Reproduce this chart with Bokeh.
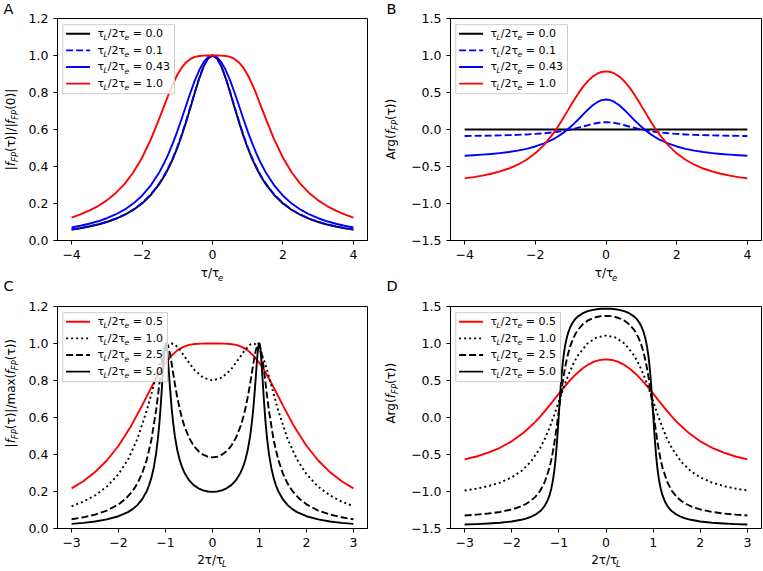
import math
from bokeh.plotting import figure
from bokeh.models import Range1d, FixedTicker, CustomJSTickFormatter, Label, BoxAnnotation, Arrow
from bokeh.layouts import row, column
from bokeh.embed import file_html
from bokeh.resources import INLINE

# ---------------- data ----------------
# Panels A / B : x = tau / tau_e
x_ab = [-4, -3.75, -3.5, -3.25, -3, -2.75, -2.5, -2.25, -2, -1.75, -1.5, -1.375, -1.25, -1.125, -1, -0.875, -0.75,
        -0.625, -0.5, -0.375, -0.25, -0.125, 0, 0.125, 0.25, 0.375, 0.5, 0.625, 0.75, 0.875, 1, 1.125, 1.25, 1.375,
        1.5, 1.75, 2, 2.25, 2.5, 2.75, 3, 3.25, 3.5, 3.75, 4]
mag_00 = [0.0588, 0.0664, 0.0755, 0.0865, 0.1, 0.1168, 0.1379, 0.1650, 0.2, 0.2462, 0.3077, 0.3460, 0.3902, 0.4414,
          0.5, 0.5664, 0.64, 0.7191, 0.8, 0.8767, 0.9412, 0.9846, 1,
          0.9846, 0.9412, 0.8767, 0.8, 0.7191, 0.64, 0.5664, 0.5, 0.4414, 0.3902, 0.3460, 0.3077, 0.2462, 0.2, 0.1650,
          0.1379, 0.1168, 0.1, 0.0865, 0.0755, 0.0664, 0.0588]
mag_01 = [0.0594, 0.0671, 0.0763, 0.0874, 0.1011, 0.1181, 0.1395, 0.1668, 0.2022, 0.2489, 0.3111, 0.3498, 0.3945,
          0.4460, 0.5050, 0.5716, 0.6452, 0.7240, 0.8041, 0.8797, 0.9428, 0.9851, 1,
          0.9851, 0.9428, 0.8797, 0.8041, 0.7240, 0.6452, 0.5716, 0.5050, 0.4460, 0.3945, 0.3498, 0.3111, 0.2489,
          0.2022, 0.1668, 0.1395, 0.1181, 0.1011, 0.0874, 0.0763, 0.0671, 0.0594]
mag_043 = [0.0704, 0.0795, 0.0905, 0.1039, 0.1203, 0.1407, 0.1665, 0.1995, 0.2422, 0.2983, 0.3722, 0.4174, 0.4686,
           0.5263, 0.5899, 0.6584, 0.7296, 0.8001, 0.8655, 0.9216, 0.9643, 0.9910, 1,
           0.9910, 0.9643, 0.9216, 0.8655, 0.8001, 0.7296, 0.6584, 0.5899, 0.5263, 0.4686, 0.4174, 0.3722, 0.2983,
           0.2422, 0.1995, 0.1665, 0.1407, 0.1203, 0.1039, 0.0905, 0.0795, 0.0704]
mag_10 = [0.1240, 0.1408, 0.1611, 0.1861, 0.2169, 0.2557, 0.3048, 0.3674, 0.4472, 0.5468, 0.6644, 0.7267, 0.7880,
          0.8450, 0.8944, 0.9339, 0.9627, 0.9815, 0.9923, 0.9975, 0.9995, 1.0000, 1,
          1.0000, 0.9995, 0.9975, 0.9923, 0.9815, 0.9627, 0.9339, 0.8944, 0.8450, 0.7880, 0.7267, 0.6644, 0.5468,
          0.4472, 0.3674, 0.3048, 0.2557, 0.2169, 0.1861, 0.1611, 0.1408, 0.1240]
arg_00 = [0.0] * 45
arg_01 = [-0.0879, -0.0864, -0.0846, -0.0822, -0.0796, -0.0763, -0.0720, -0.0666, -0.0596, -0.0504, -0.0380, -0.0303,
          -0.0215, -0.0112, 0.0005, 0.0138, 0.0285, 0.0442, 0.0602, 0.0754, 0.0881, 0.0967, 0.0997,
          0.0967, 0.0881, 0.0754, 0.0602, 0.0442, 0.0285, 0.0138, 0.0005, -0.0112, -0.0215, -0.0303, -0.0380, -0.0504,
          -0.0596, -0.0666, -0.0720, -0.0763, -0.0796, -0.0822, -0.0846, -0.0864, -0.0879]
arg_043 = [-0.3546, -0.3485, -0.3402, -0.3307, -0.3186, -0.3039, -0.2849, -0.2609, -0.2294, -0.1878, -0.1326, -0.0984,
           -0.0590, -0.0142, 0.0364, 0.0922, 0.1520, 0.2135, 0.2732, 0.3266, 0.3691, 0.3969, 0.4061,
           0.3969, 0.3691, 0.3266, 0.2732, 0.2135, 0.1520, 0.0922, 0.0364, -0.0142, -0.0590, -0.0984, -0.1326, -0.1878,
           -0.2294, -0.2609, -0.2849, -0.3039, -0.3186, -0.3307, -0.3402, -0.3485, -0.3546]
arg_10 = [-0.6610, -0.6441, -0.6237, -0.5984, -0.5667, -0.5271, -0.4758, -0.4090, -0.3218, -0.2069, -0.0587, 0.0281,
          0.1222, 0.2212, 0.3218, 0.4198, 0.5112, 0.5924, 0.6610, 0.7155, 0.7542, 0.7776, 0.7854,
          0.7776, 0.7542, 0.7155, 0.6610, 0.5924, 0.5112, 0.4198, 0.3218, 0.2212, 0.1222, 0.0281, -0.0587, -0.2069,
          -0.3218, -0.4090, -0.4758, -0.5271, -0.5667, -0.5984, -0.6237, -0.6441, -0.6610]
labels_ab = ["0.0", "0.1", "0.43", "1.0"]

# Panels C / D : u = 2 tau / tau_L
u_05 = [-3, -2.75, -2.5, -2.25, -2, -1.75, -1.5, -1.375, -1.25, -1.125, -1, -0.875, -0.75, -0.625, -0.5, -0.375,
        -0.25, -0.125, 0, 0.125, 0.25, 0.375, 0.5, 0.625, 0.75, 0.875, 1, 1.125, 1.25, 1.375, 1.5, 1.75, 2, 2.25,
        2.5, 2.75, 3]
cmag_05 = [0.2169, 0.2557, 0.3048, 0.3674, 0.4472, 0.5468, 0.6644, 0.7267, 0.7880, 0.8450, 0.8944, 0.9339, 0.9627,
           0.9815, 0.9923, 0.9975, 0.9995, 1.0000, 1,
           1.0000, 0.9995, 0.9975, 0.9923, 0.9815, 0.9627, 0.9339, 0.8944, 0.8450, 0.7880, 0.7267, 0.6644, 0.5468,
           0.4472, 0.3674, 0.3048, 0.2557, 0.2169]
carg_05 = [-0.5667, -0.5271, -0.4758, -0.4090, -0.3218, -0.2069, -0.0587, 0.0281, 0.1222, 0.2212, 0.3218, 0.4198,
           0.5112, 0.5924, 0.6610, 0.7155, 0.7542, 0.7776, 0.7854,
           0.7776, 0.7542, 0.7155, 0.6610, 0.5924, 0.5112, 0.4198, 0.3218, 0.2212, 0.1222, 0.0281, -0.0587, -0.2069,
           -0.3218, -0.4090, -0.4758, -0.5271, -0.5667]

u_1 = [-3, -2.75, -2.5, -2.25, -2, -1.8, -1.6, -1.4, -1.3, -1.2, -1.1, -1, -0.9, -0.875, -0.8, -0.7, -0.6, -0.4, -0.2, 0,
       0.2, 0.4, 0.6, 0.7, 0.8, 0.875, 0.9, 1, 1.1, 1.2, 1.3, 1.4, 1.6, 1.8, 2, 2.25, 2.5, 2.75, 3]
cmag_1 = [0.1203, 0.1452, 0.1789, 0.2259, 0.2941, 0.3727, 0.4836, 0.6371, 0.7287, 0.8231, 0.9085, 0.9702, 0.9982, 0.9999,
          0.9941, 0.9679, 0.9317, 0.8613, 0.8154, 0.8000, 0.8154, 0.8613, 0.9317, 0.9679, 0.9941, 0.9999, 0.9982, 0.9702,
          0.9085, 0.8231, 0.7287, 0.6371, 0.4836, 0.3727, 0.2941, 0.2259, 0.1789, 0.1452, 0.1203]
carg_1 = [-0.9866, -0.9618, -0.9273, -0.8792, -0.8087, -0.7255, -0.6023, -0.4162, -0.2909, -0.1403, 0.0325, 0.2187, 0.4036,
          0.4476, 0.5731, 0.7179, 0.8353, 0.9969, 1.0813, 1.1071, 1.0813, 0.9969, 0.8353, 0.7179, 0.5731, 0.4476, 0.4036,
          0.2187, 0.0325, -0.1403, -0.2909, -0.4162, -0.6023, -0.7255, -0.8087, -0.8792, -0.9273, -0.9618, -0.9866]

u_25 = [-3.0, -2.75, -2.5, -2.25, -2.0, -1.85, -1.7, -1.6, -1.5, -1.4, -1.3, -1.2, -1.16, -1.12, -1.08, -1.04, -1.0,
        -0.98, -0.96, -0.92, -0.88, -0.84, -0.8, -0.76, -0.7, -0.65, -0.6, -0.5, -0.4, -0.3, -0.2, -0.1, 0,
        0.1, 0.2, 0.3, 0.4, 0.5, 0.6, 0.65, 0.7, 0.76, 0.8, 0.84, 0.88, 0.92, 0.96, 0.98, 1.0, 1.04, 1.08, 1.12, 1.16,
        1.2, 1.3, 1.4, 1.5, 1.6, 1.7, 1.85, 2.0, 2.25, 2.5, 2.75, 3.0]
cmag_25 = [0.0497, 0.0605, 0.0754, 0.0970, 0.1305, 0.1603, 0.2029, 0.2425, 0.2962, 0.3714, 0.4805, 0.6402, 0.7200,
           0.8054, 0.8887, 0.9568, 0.9950, 1.0000, 0.9954, 0.9620, 0.9071, 0.8438, 0.7809, 0.7228, 0.6481, 0.5970,
           0.5547, 0.4908, 0.4472, 0.4177, 0.3987, 0.3881, 0.3846,
           0.3881, 0.3987, 0.4177, 0.4472, 0.4908, 0.5547, 0.5970, 0.6481, 0.7228, 0.7809, 0.8438, 0.9071, 0.9620,
           0.9954, 1.0000, 0.9950, 0.9568, 0.8887, 0.8054, 0.7200, 0.6402, 0.4805, 0.3714, 0.2962, 0.2425, 0.2029,
           0.1603, 0.1305, 0.0970, 0.0754, 0.0605, 0.0497]
carg_25 = [-1.3240, -1.3129, -1.2977, -1.2764, -1.2428, -1.2124, -1.1690, -1.1284, -1.0726, -0.9930, -0.8721, -0.6786,
           -0.5694, -0.4372, -0.2788, -0.0977, 0.0977, 0.1964, 0.2931, 0.4740, 0.6318, 0.7639, 0.8721, 0.9608, 1.0629,
           1.1284, 1.1803, 1.2555, 1.3045, 1.3372, 1.3580, 1.3695, 1.3734,
           1.3695, 1.3580, 1.3372, 1.3045, 1.2555, 1.1803, 1.1284, 1.0629, 0.9608, 0.8721, 0.7639, 0.6318, 0.4740,
           0.2931, 0.1964, 0.0977, -0.0977, -0.2788, -0.4372, -0.5694, -0.6786, -0.8721, -0.9930, -1.0726, -1.1284,
           -1.1690, -1.2124, -1.2428, -1.2764, -1.2977, -1.3129, -1.3240]

u_5 = [-3.0, -2.75, -2.5, -2.25, -2.0, -1.8, -1.7, -1.6, -1.5, -1.4, -1.35, -1.3, -1.25, -1.2, -1.16, -1.13, -1.1,
       -1.08, -1.06, -1.04, -1.02, -1.01, -1.0, -0.99, -0.98, -0.96, -0.94, -0.92, -0.9, -0.87, -0.84, -0.8, -0.75,
       -0.7, -0.65, -0.6, -0.5, -0.4, -0.3, -0.2, -0.1, 0,
       0.1, 0.2, 0.3, 0.4, 0.5, 0.6, 0.65, 0.7, 0.75, 0.8, 0.84, 0.87, 0.9, 0.92, 0.94, 0.96, 0.98, 0.99, 1.0, 1.01,
       1.02, 1.04, 1.06, 1.08, 1.1, 1.13, 1.16, 1.2, 1.25, 1.3, 1.35, 1.4, 1.5, 1.6, 1.7, 1.8, 2.0, 2.25, 2.5, 2.75, 3.0]
cmag_5 = [0.0250, 0.0304, 0.0380, 0.0491, 0.0664, 0.0886, 0.1048, 0.1265, 0.1569, 0.2021, 0.2338, 0.2750, 0.3301,
          0.4065, 0.4907, 0.5724, 0.6733, 0.7507, 0.8324, 0.9101, 0.9706, 0.9898, 0.9997, 0.9998, 0.9902, 0.9471,
          0.8837, 0.8131, 0.7440, 0.6518, 0.5758, 0.4966, 0.4242, 0.3718, 0.3327, 0.3029, 0.2612, 0.2345, 0.2171,
          0.2062, 0.2002, 0.1982,
          0.2002, 0.2062, 0.2171, 0.2345, 0.2612, 0.3029, 0.3327, 0.3718, 0.4242, 0.4966, 0.5758, 0.6518, 0.7440,
          0.8131, 0.8837, 0.9471, 0.9902, 0.9998, 0.9997, 0.9898, 0.9706, 0.9101, 0.8324, 0.7507, 0.6733, 0.5724,
          0.4907, 0.4065, 0.3301, 0.2750, 0.2338, 0.2021, 0.1569, 0.1265, 0.1048, 0.0886, 0.0664, 0.0491, 0.0380,
          0.0304, 0.0250]
carg_5 = [-1.4464, -1.4407, -1.4331, -1.4220, -1.4048, -1.3825, -1.3662, -1.3444, -1.3138, -1.2679, -1.2357, -1.1930,
          -1.1350, -1.0527, -0.9584, -0.8622, -0.7336, -0.6229, -0.4893, -0.3296, -0.1472, -0.0497, 0.0497, 0.1491,
          0.2466, 0.4292, 0.5889, 0.7225, 0.8328, 0.9616, 1.0577, 1.1513, 1.2329, 1.2898, 1.3320, 1.3631, 1.4065,
          1.4340, 1.4518, 1.4630, 1.4691, 1.4711,
          1.4691, 1.4630, 1.4518, 1.4340, 1.4065, 1.3631, 1.3320, 1.2898, 1.2329, 1.1513, 1.0577, 0.9616, 0.8328,
          0.7225, 0.5889, 0.4292, 0.2466, 0.1491, 0.0497, -0.0497, -0.1472, -0.3296, -0.4893, -0.6229, -0.7336,
          -0.8622, -0.9584, -1.0527, -1.1350, -1.1930, -1.2357, -1.2679, -1.3138, -1.3444, -1.3662, -1.3825, -1.4048,
          -1.4220, -1.4331, -1.4407, -1.4464]
labels_cd = ["0.5", "1.0", "2.5", "5.0"]

ticks_x_ab = [-4, -2, 0, 2, 4]
ticks_x_cd = [-3, -2, -1, 0, 1, 2, 3]
ticks_y_mag = [0.0, 0.2, 0.4, 0.6, 0.8, 1.0, 1.2]
ticks_y_arg = [-1.5, -1.0, -0.5, 0.0, 0.5, 1.0, 1.5]

# ---------------- styling helpers ----------------
FONT = "DejaVu Sans"
TPX = 12.5      # tick label size
APX = 12.0      # axis label size
LPX = 11.0      # legend text size
LW = 1.9
BLACK, BLUE, RED = "#000000", "#0000ff", "#ff0000"
DASH, DOT = "7 3", "2 3"

EM = {" ": 0.318, "(": 0.390, ")": 0.390, "/": 0.337, "|": 0.337, ".": 0.318, "=": 0.838,
      "A": 0.684, "r": 0.411, "g": 0.635, "m": 0.974, "a": 0.613, "x": 0.592, "τ": 0.55,
      "f": 0.352, "F": 0.575, "P": 0.603, "L": 0.557, "e": 0.615}
for _d in "0123456789":
    EM[_d] = 0.636


def tw(s, px):
    return sum(EM.get(c, 0.6) for c in s) * px


def rich(p, parts, x, y, px, vertical=False, center=True):
    """Draw mixed normal / italic / subscript text; (x, y) is the baseline start
    (or baseline centre), in screen pixels measured from the frame's bottom-left."""
    sizes = [px * 0.7 if k == "s" else px for _, k in parts]
    widths = [tw(t, s) for (t, _), s in zip(parts, sizes)]
    pos = (y if vertical else x) - (sum(widths) / 2 if center else 0)
    for (t, k), s, w in zip(parts, sizes, widths):
        lead = len(t) - len(t.lstrip(" "))
        txt = t.strip(" ")
        start = pos + tw(" " * lead, s)
        shift = px * 0.24 if k == "s" else 0
        mid = 0.35 * s          # distance from baseline to the text's middle
        style = "italic" if k in ("i", "s") else "normal"
        if vertical:
            lx, ly, ang = x + shift - mid, start, math.pi / 2
        else:
            lx, ly, ang = start, y - shift + mid, 0
        p.add_layout(Label(x=lx, y=ly, x_units="screen", y_units="screen", text=txt, angle=ang,
                           text_font=FONT, text_font_size=f"{s:.2f}px", text_font_style=style,
                           text_align="left", text_baseline="middle", text_color="black"))
        pos += w


def make_fig(w, h, left, right, top, bottom, xr, yr, xt, yt, xdec, ydec):
    p = figure(width=w, height=h, output_backend="svg", toolbar_location=None, tools="", title=None,
               x_range=Range1d(*xr), y_range=Range1d(*yr),
               min_border_left=left, min_border_right=right,
               min_border_top=top, min_border_bottom=bottom)
    p.grid.visible = False
    p.outline_line_color = "black"
    p.outline_line_width = 1
    p.outline_line_alpha = 1.0
    p.background_fill_color = "white"
    p.border_fill_color = "white"
    for ax, ticks, dec in ((p.xaxis[0], xt, xdec), (p.yaxis[0], yt, ydec)):
        ax.ticker = FixedTicker(ticks=ticks)
        ax.formatter = CustomJSTickFormatter(
            code="return (tick < 0 ? '\\u2212' : '') + Math.abs(tick).toFixed(%d);" % dec)
        ax.major_tick_out = 4
        ax.major_tick_in = 0
        ax.minor_tick_out = 0
        ax.minor_tick_in = 0
        ax.major_tick_line_color = "black"
        ax.major_tick_line_width = 1
        ax.axis_line_color = "black"
        ax.axis_line_width = 1
        ax.major_label_standoff = 5
        ax.major_label_text_font = FONT
        ax.major_label_text_font_size = f"{TPX}px"
        ax.major_label_text_color = "black"
    return p


def blank(w, h):
    p = figure(width=w, height=h, output_backend="svg", toolbar_location=None, tools="", title=None,
               x_range=Range1d(0, 1), y_range=Range1d(0, 1),
               x_axis_location=None, y_axis_location=None,
               min_border=0, min_border_left=0, min_border_right=0, min_border_top=0, min_border_bottom=0)
    p.grid.visible = False
    p.outline_line_color = None
    p.background_fill_color = "white"
    p.border_fill_color = "white"
    return p


def legend(p, fh, styles, vals):
    parts_list = [[("τ", "n"), ("L", "s"), ("/2τ", "n"), ("e", "s"), (" = " + v, "n")] for v in vals]
    maxw = max(sum(tw(t, LPX * 0.7 if k == "s" else LPX) for t, k in parts) for parts in parts_list)
    left, top = 5.3, 6.2
    right = 40 + maxw + 4.5
    bottom = top + 69
    p.add_layout(BoxAnnotation(left=left, right=right, top=fh - top, bottom=fh - bottom,
                               left_units="screen", right_units="screen",
                               top_units="screen", bottom_units="screen",
                               fill_color="white", fill_alpha=0.8,
                               line_color="#cccccc", line_alpha=1.0, line_width=1))
    for i, ((c, d), parts) in enumerate(zip(styles, parts_list)):
        yc = 15.2 + 16.65 * i
        p.add_layout(Arrow(end=None, x_start=8.6, y_start=fh - yc, x_end=32.6, y_end=fh - yc,
                           start_units="screen", end_units="screen",
                           line_color=c, line_width=LW, line_dash=d))
        rich(p, parts, 40, fh - (yc + 3.8), LPX, center=False)


xlab_e = [("τ/τ", "n"), ("e", "s")]
xlab_L = [("2τ/τ", "n"), ("L", "s")]
ylab_a = [("|", "n"), ("f", "i"), ("FP", "s"), ("(τ)|/|", "n"), ("f", "i"), ("FP", "s"), ("(0)|", "n")]
ylab_arg = [("Arg(", "n"), ("f", "i"), ("FP", "s"), ("(τ))", "n")]
ylab_c = [("|", "n"), ("f", "i"), ("FP", "s"), ("(τ)|/max(", "n"), ("f", "i"), ("FP", "s"), ("(τ))", "n")]

FH1, FH2 = 222, 222

# ---------------- Panel A ----------------
pA = make_fig(354, 264, 31, 12, 18, 24, (-4.4, 4.4), (0, 1.2), ticks_x_ab, ticks_y_mag, 0, 1)
pA.line(x_ab, mag_00, line_color=BLACK, line_width=LW, line_join="round")
pA.line(x_ab, mag_01, line_color=BLUE, line_width=LW, line_dash=DASH, line_join="round")
pA.line(x_ab, mag_043, line_color=BLUE, line_width=LW, line_join="round")
pA.line(x_ab, mag_10, line_color=RED, line_width=LW, line_join="round")
legend(pA, FH1, [(BLACK, "solid"), (BLUE, DASH), (BLUE, "solid"), (RED, "solid")], labels_ab)

# ---------------- Panel B ----------------
pB = make_fig(354, 264, 42, 1, 18, 24, (-4.4, 4.4), (-1.5, 1.5), ticks_x_ab, ticks_y_arg, 0, 1)
pB.line(x_ab, arg_00, line_color=BLACK, line_width=LW, line_join="round")
pB.line(x_ab, arg_01, line_color=BLUE, line_width=LW, line_dash=DASH, line_join="round")
pB.line(x_ab, arg_043, line_color=BLUE, line_width=LW, line_join="round")
pB.line(x_ab, arg_10, line_color=RED, line_width=LW, line_join="round")
legend(pB, FH1, [(BLACK, "solid"), (BLUE, DASH), (BLUE, "solid"), (RED, "solid")], labels_ab)

# ---------------- Panel C ----------------
pC = make_fig(354, 258, 31, 12, 12, 24, (-3.3, 3.3), (0, 1.2), ticks_x_cd, ticks_y_mag, 0, 1)
pC.line(u_05, cmag_05, line_color=RED, line_width=LW, line_join="round")
pC.line(u_1, cmag_1, line_color=BLACK, line_width=LW, line_dash=DOT, line_join="round")
pC.line(u_25, cmag_25, line_color=BLACK, line_width=LW, line_dash=DASH, line_join="round")
pC.line(u_5, cmag_5, line_color=BLACK, line_width=LW, line_join="round")
legend(pC, FH2, [(RED, "solid"), (BLACK, DOT), (BLACK, DASH), (BLACK, "solid")], labels_cd)

# ---------------- Panel D ----------------
pD = make_fig(354, 258, 42, 1, 12, 24, (-3.3, 3.3), (-1.5, 1.5), ticks_x_cd, ticks_y_arg, 0, 1)
pD.line(u_05, carg_05, line_color=RED, line_width=LW, line_join="round")
pD.line(u_1, carg_1, line_color=BLACK, line_width=LW, line_dash=DOT, line_join="round")
pD.line(u_25, carg_25, line_color=BLACK, line_width=LW, line_dash=DASH, line_join="round")
pD.line(u_5, carg_5, line_color=BLACK, line_width=LW, line_join="round")
legend(pD, FH2, [(RED, "solid"), (BLACK, DOT), (BLACK, DASH), (BLACK, "solid")], labels_cd)

# ---------------- label strips (axis titles and panel letters) ----------------
sA = blank(25, 17)
rich(sA, [("A", "n")], 3, 3.2, 14.5, center=False)
sB = blank(29, 17)
rich(sB, [("B", "n")], 7, 3.2, 14.5, center=False)

yA = blank(25, 247)
rich(yA, ylab_a, 14.5, 135, APX, vertical=True)

yB = blank(29, 247)
rich(yB, ylab_arg, 16, 135, APX, vertical=True)

xs1 = blank(762, 30)
rich(xs1, xlab_e, 211.5, 17, APX)
rich(xs1, xlab_e, 605.5, 17, APX)
rich(xs1, [("C", "n")], 3, 3.5, 14.5, center=False)
rich(xs1, [("D", "n")], 386, 3.5, 14.5, center=False)

yC = blank(25, 258)
rich(yC, ylab_c, 14.5, 135, APX, vertical=True)

yD = blank(29, 258)
rich(yD, ylab_arg, 16, 135, APX, vertical=True)

xs2 = blank(762, 17)
rich(xs2, xlab_L, 211.5, 5, APX)
rich(xs2, xlab_L, 605.5, 5, APX)

row1 = row(column(sA, yA), pA, column(sB, yB), pB)
row3 = row(yC, pC, yD, pD)
layout = column(row1, xs1, row3, xs2)
open("out.html", "w").write(file_html(layout, INLINE))
